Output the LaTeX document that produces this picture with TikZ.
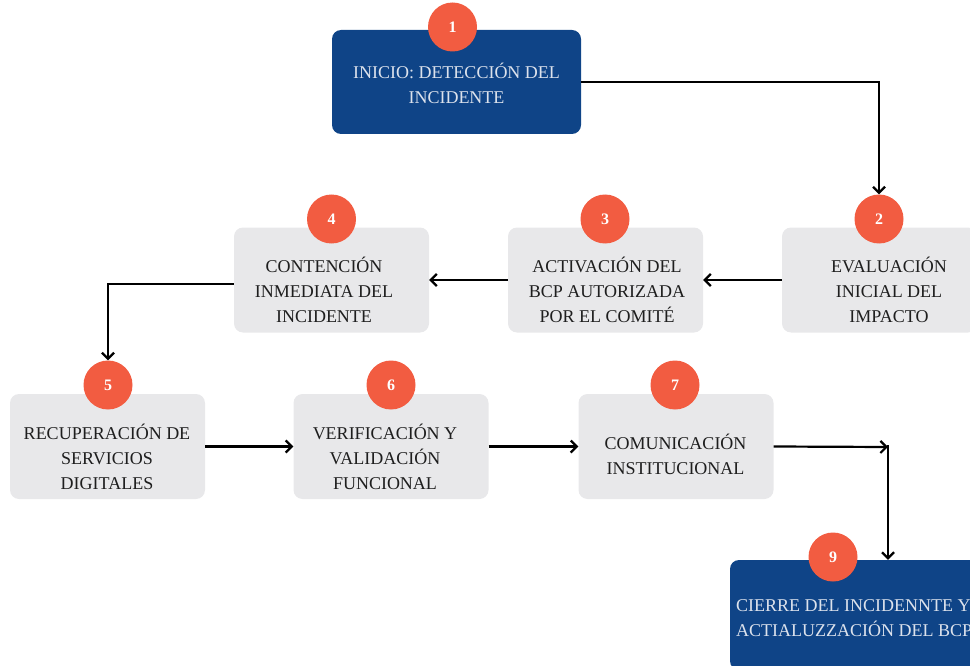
\documentclass[tikz,border=0pt]{standalone}
\usepackage{fontspec}
\setmainfont{Liberation Serif}
\usetikzlibrary{arrows.meta}
\definecolor{navy}{HTML}{0F4487}
\definecolor{coral}{HTML}{F25C41}
\definecolor{boxgray}{HTML}{E8E8EA}
\definecolor{lighttext}{HTML}{DCE2EC}
\definecolor{darktext}{HTML}{1E1E1E}
\begin{document}
\begin{tikzpicture}[x=1pt,y=-1pt,
  bluebox/.style={fill=navy, rounded corners=9pt, inner sep=0pt},
  graybox/.style={fill=boxgray, rounded corners=9pt, inner sep=0pt, minimum width=195pt, minimum height=105pt},
  numcirc/.style={circle, fill=coral, minimum size=49pt, inner sep=0pt, text=white, font=\fontsize{16}{16}\selectfont\bfseries},
  darklabel/.style={align=center, text=darktext, font=\fontsize{18}{25}\selectfont, inner sep=0pt},
  lightlabel/.style={align=center, text=lighttext, font=\fontsize{18}{25}\selectfont, inner sep=0pt},
  conn/.style={line width=2.2pt, -{Straight Barb[length=6pt,width=12pt]}}]
\useasboundingbox (0,0) rectangle (970,666);
\clip (0,0) rectangle (970,666);
% boxes
\node[bluebox, minimum width=249pt, minimum height=104pt] (b1) at (456.5,82) {};
\node[graybox] (b2) at (879.5,280) {};
\node[graybox] (b3) at (605.5,280) {};
\node[graybox] (b4) at (331.5,280) {};
\node[graybox] (b5) at (107.5,446.5) {};
\node[graybox] (b6) at (391,446.5) {};
\node[graybox] (b7) at (676,446.5) {};
\node[bluebox, minimum width=270pt, minimum height=110pt] (b9) at (865,615) {};
% labels
\node[lightlabel] (t1) at (456.5,83.5) {INICIO: DETECCIÓN DEL\\INCIDENTE};
\node[darklabel] (t2) at (889,290) {EVALUACIÓN\\INICIAL DEL\\IMPACTO};
\node[darklabel] (t3) at (607,290) {ACTIVACIÓN DEL\\BCP AUTORIZADA\\POR EL COMITÉ};
\node[darklabel] (t4) at (324,290) {CONTENCIÓN\\INMEDIATA DEL\\INCIDENTE};
\node[darklabel] (t5) at (107,457) {RECUPERACIÓN DE\\SERVICIOS\\DIGITALES};
\node[darklabel] (t6) at (385,457) {VERIFICACIÓN Y\\VALIDACIÓN\\FUNCIONAL};
\node[darklabel] (t7) at (675.5,454) {COMUNICACIÓN\\INSTITUCIONAL};
\node[lightlabel, align=left, anchor=west] (t9) at (736,618) {CIERRE DEL INCIDENNTE Y\\ACTIALUZZACIÓN DEL BCP};
% number circles
\node[numcirc] (c1) at (452.5,27) {1};
\node[numcirc] (c2) at (879,219) {2};
\node[numcirc] (c3) at (605,219) {3};
\node[numcirc] (c4) at (331.5,219) {4};
\node[numcirc] (c5) at (108,385) {5};
\node[numcirc] (c6) at (391,385) {6};
\node[numcirc] (c7) at (675,385) {7};
\node[numcirc] (c9) at (833,557) {9};
% connectors
\coordinate (k) at (888,447);
\draw[conn] (b1.east) -| (c2.north);
\draw[conn] (b2.west) -- (b3.east);
\draw[conn] (b3.west) -- (b4.east);
\draw[conn] ([yshift=-4pt]b4.west) -| (c5.north);
\draw[conn] (b5.east) -- (b6.west);
\draw[conn] (b6.east) -- (b7.west);
\draw[conn] (b7.east) -- (k);
\draw[conn] ([yshift=2pt]k) -- (k |- b9.north);
\end{tikzpicture}
\end{document}
